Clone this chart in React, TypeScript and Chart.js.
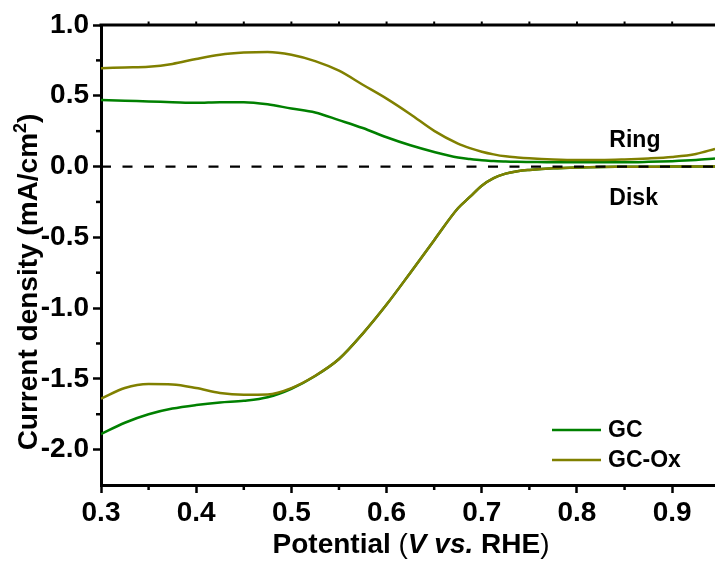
import React, { useEffect, useRef } from "react";
import { Chart, registerables } from "chart.js";

Chart.register(...registerables);

// ---------- data ----------
const POTENTIAL = [
  0.3, 0.325, 0.35, 0.375, 0.4, 0.425, 0.45, 0.475, 0.5, 0.525, 0.55, 0.575, 0.6, 0.625,
  0.65, 0.675, 0.6875, 0.7, 0.7125, 0.725, 0.7375, 0.75, 0.775, 0.8, 0.825, 0.85, 0.875,
  0.9, 0.925, 0.945,
];
const GC_RING = [
  0.47, 0.465, 0.46, 0.455, 0.45, 0.455, 0.455, 0.44, 0.41, 0.382, 0.328, 0.272, 0.207, 0.15,
  0.103, 0.064, 0.053, 0.044, 0.039, 0.035, 0.033, 0.032, 0.03, 0.03, 0.03, 0.03, 0.033,
  0.038, 0.046, 0.056,
];
const GC_DISK = [
  -1.89, -1.81, -1.75, -1.71, -1.685, -1.667, -1.655, -1.63, -1.57, -1.48, -1.36, -1.18, -0.975,
  -0.75, -0.52, -0.295, -0.215, -0.135, -0.082, -0.05, -0.033, -0.024, -0.012, -0.006, -0.003,
  -0.002, -0.001, 0, 0, 0,
];
const GC_OX_RING = [
  0.695, 0.7, 0.705, 0.725, 0.76, 0.79, 0.805, 0.81, 0.79, 0.745, 0.677, 0.578, 0.48, 0.37,
  0.252, 0.162, 0.13, 0.105, 0.086, 0.072, 0.064, 0.058, 0.05, 0.046, 0.046, 0.05, 0.057,
  0.068, 0.089, 0.125,
];
const GC_OX_DISK = [
  -1.64, -1.565, -1.537, -1.54, -1.565, -1.6, -1.612, -1.61, -1.565, -1.478, -1.36, -1.18, -0.975,
  -0.75, -0.52, -0.295, -0.215, -0.135, -0.082, -0.05, -0.033, -0.024, -0.012, -0.006, -0.003,
  -0.002, -0.001, 0, 0, 0,
];
const ZERO_LINE_X = [0.3, 0.945];
const ZERO_LINE_Y = [0, 0];

const SERIES_NAMES = ["GC", "GC-Ox"];
const SERIES_COLORS = ["#008000", "#808000"];

const X_TICKS = [0.3, 0.4, 0.5, 0.6, 0.7, 0.8, 0.9];
const X_MINOR = [0.35, 0.45, 0.55, 0.65, 0.75, 0.85];
const Y_TICKS = [-2.0, -1.5, -1.0, -0.5, 0.0, 0.5, 1.0];
const Y_MINOR = [-1.75, -1.25, -0.75, -0.25, 0.25, 0.75];
const X_MIN = 0.3;
const X_MAX = 0.945;
const Y_MIN = -2.25;
const Y_MAX = 1.0;

const REGION_LABELS = [
  { text: "Ring", x: 0.834, y: 0.139 },
  { text: "Disk", x: 0.834, y: -0.274 },
];

const FONT = '"Liberation Sans", Arial, Helvetica, sans-serif';

function pts(xs: number[], ys: number[]) {
  return xs.map((x, i) => ({ x, y: ys[i] }));
}

const decorPlugin = {
  id: "decor",
  afterDatasetsDraw(chart: any) {
    const { ctx, chartArea: a, scales } = chart;
    const x = scales.x;
    const y = scales.y;
    ctx.save();
    ctx.strokeStyle = "#000";
    ctx.fillStyle = "#000";
    ctx.lineCap = "butt";

    // top frame line
    ctx.lineWidth = 3;
    ctx.beginPath();
    ctx.moveTo(a.left - 1.5, a.top);
    ctx.lineTo(a.right, a.top);
    ctx.stroke();

    // small ticks on top frame
    ctx.lineWidth = 2;
    [...X_TICKS, ...X_MINOR].forEach((v) => {
      const px = x.getPixelForValue(v);
      if (px <= a.left + 3) return;
      ctx.beginPath();
      ctx.moveTo(px, a.top);
      ctx.lineTo(px, a.top - 3.5);
      ctx.stroke();
    });

    // minor ticks
    ctx.lineWidth = 2.5;
    X_MINOR.forEach((v) => {
      const px = x.getPixelForValue(v);
      ctx.beginPath();
      ctx.moveTo(px, a.bottom);
      ctx.lineTo(px, a.bottom + 5);
      ctx.stroke();
    });
    Y_MINOR.forEach((v) => {
      const py = y.getPixelForValue(v);
      ctx.beginPath();
      ctx.moveTo(a.left, py);
      ctx.lineTo(a.left - 5, py);
      ctx.stroke();
    });

    // Ring / Disk labels
    ctx.font = `bold 23px ${FONT}`;
    ctx.textAlign = "left";
    ctx.textBaseline = "alphabetic";
    REGION_LABELS.forEach((l) => {
      ctx.fillText(l.text, x.getPixelForValue(l.x), y.getPixelForValue(l.y));
    });

    // legend
    const rowsY = [a.bottom - 55, a.bottom - 25];
    SERIES_NAMES.forEach((name, i) => {
      const ly = rowsY[i];
      ctx.strokeStyle = SERIES_COLORS[i];
      ctx.lineWidth = 2.5;
      ctx.beginPath();
      ctx.moveTo(a.right - 163, ly);
      ctx.lineTo(a.right - 114, ly);
      ctx.stroke();
      ctx.fillStyle = "#000";
      ctx.fillText(name, a.right - 107, ly + 7);
    });

    // x axis title with mixed styles
    const xParts = [
      { t: "Potential ", f: `bold 28px ${FONT}` },
      { t: "(", f: `28px ${FONT}` },
      { t: "V vs.", f: `italic bold 28px ${FONT}` },
      { t: " RHE", f: `bold 28px ${FONT}` },
      { t: ")", f: `28px ${FONT}` },
    ];
    let total = 0;
    xParts.forEach((p) => {
      ctx.font = p.f;
      total += ctx.measureText(p.t).width;
    });
    let cx = (a.left + a.right) / 2 + 3 - total / 2;
    const baseY = a.bottom + 68;
    xParts.forEach((p) => {
      ctx.font = p.f;
      ctx.fillText(p.t, cx, baseY);
      cx += ctx.measureText(p.t).width;
    });

    // y axis title, rotated, with superscript
    const yMain = "Current density (mA/cm";
    const ySup = "2";
    const yEnd = ")";
    const mainFont = `bold 28px ${FONT}`;
    const supFont = `bold 18px ${FONT}`;
    ctx.font = mainFont;
    const w1 = ctx.measureText(yMain).width;
    const w3 = ctx.measureText(yEnd).width;
    ctx.font = supFont;
    const w2 = ctx.measureText(ySup).width;
    const len = w1 + w2 + w3;
    const centerY = (a.top + a.bottom) / 2 + 27;
    ctx.translate(36.5, centerY + len / 2);
    ctx.rotate(-Math.PI / 2);
    ctx.font = mainFont;
    ctx.fillText(yMain, 0, 0);
    ctx.font = supFont;
    ctx.fillText(ySup, w1, -11);
    ctx.font = mainFont;
    ctx.fillText(yEnd, w1 + w2, 0);

    ctx.restore();
  },
};

export default function App() {
  const ref = useRef<HTMLCanvasElement | null>(null);

  useEffect(() => {
    document.body.style.margin = "0";
    if (!ref.current) return;
    const series = (data: any, color: string, order: number) => ({
      data,
      borderColor: color,
      backgroundColor: color,
      borderWidth: 2.5,
      pointRadius: 0,
      cubicInterpolationMode: "monotone" as const,
      fill: false,
      order,
    });
    const chart = new Chart(ref.current, {
      type: "line",
      data: {
        datasets: [
          {
            data: pts(ZERO_LINE_X, ZERO_LINE_Y),
            borderColor: "#000",
            borderWidth: 2.2,
            borderDash: [10, 11.5],
            pointRadius: 0,
            fill: false,
            order: 0,
          },
          series(pts(POTENTIAL, GC_OX_RING), SERIES_COLORS[1], 1),
          series(pts(POTENTIAL, GC_OX_DISK), SERIES_COLORS[1], 1),
          series(pts(POTENTIAL, GC_RING), SERIES_COLORS[0], 2),
          series(pts(POTENTIAL, GC_DISK), SERIES_COLORS[0], 2),
        ],
      },
      options: {
        responsive: false,
        animation: false,
        devicePixelRatio: 1,
        layout: { padding: { top: 25, right: 0, bottom: 0, left: 0 } },
        plugins: { legend: { display: false }, tooltip: { enabled: false }, title: { display: false } },
        scales: {
          x: {
            type: "linear",
            min: X_MIN,
            max: X_MAX,
            afterBuildTicks: (s: any) => {
              s.ticks = X_TICKS.map((v) => ({ value: v }));
            },
            afterFit: (s: any) => {
              s.height = 76;
            },
            grid: {
              display: true,
              drawOnChartArea: false,
              drawTicks: true,
              tickLength: 8,
              tickWidth: 2.5,
              tickColor: "#000",
            },
            border: { display: true, width: 3, color: "#000" },
            ticks: {
              color: "#000",
              font: { family: FONT, size: 28, weight: "bold" },
              padding: 3,
              maxRotation: 0,
              autoSkip: false,
              callback: (v: any) => Number(v).toFixed(1),
            },
          },
          y: {
            type: "linear",
            min: Y_MIN,
            max: Y_MAX,
            afterBuildTicks: (s: any) => {
              s.ticks = Y_TICKS.map((v) => ({ value: v }));
            },
            afterFit: (s: any) => {
              s.width = 101;
            },
            grid: {
              display: true,
              drawOnChartArea: false,
              drawTicks: true,
              tickLength: 8,
              tickWidth: 2.5,
              tickColor: "#000",
            },
            border: { display: true, width: 3, color: "#000" },
            ticks: {
              color: "#000",
              font: { family: FONT, size: 28, weight: "bold" },
              padding: 4,
              autoSkip: false,
              callback: (v: any) => Number(v).toFixed(1),
            },
          },
        },
      },
      plugins: [decorPlugin],
    } as any);
    return () => chart.destroy();
  }, []);

  return (
    <div style={{ width: 715, height: 561 }}>
      <canvas ref={ref} width={715} height={561} style={{ display: "block" }} />
    </div>
  );
}
